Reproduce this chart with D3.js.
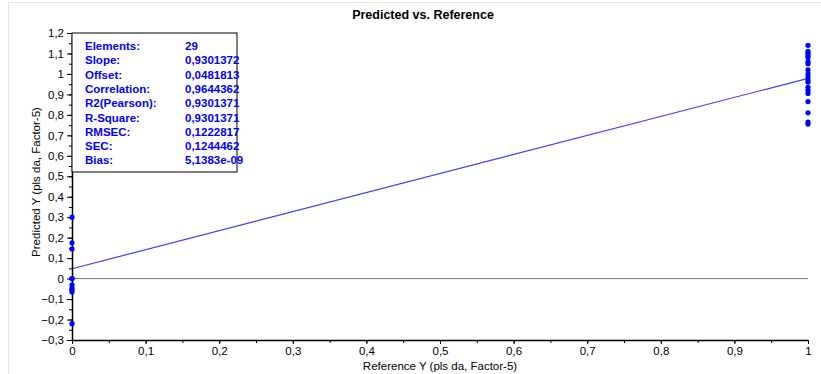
<!DOCTYPE html>
<html><head><meta charset="utf-8">
<script src="https://cdn.jsdelivr.net/npm/d3@7"></script>
<style>body{margin:0;background:#fff}svg{display:block}</style>
</head><body>
<svg id="c" width="821" height="374"></svg>
<script>
// Data
const refX0 = [0,0,0,0,0,0,0,0,0,0];
const predX0 = [0.30,0.175,0.145,0.0,-0.03,-0.045,-0.055,-0.065,-0.22,0.0];
const refX1 = [1,1,1,1,1,1,1,1,1,1,1,1,1,1,1,1,1,1,1];
const predX1 = [1.14,1.11,1.10,1.09,1.08,1.06,1.05,1.02,0.985,0.97,0.96,0.935,0.92,0.905,0.865,0.81,0.765,0.755,1.0];
const statLabels = ["Elements:","Slope:","Offset:","Correlation:","R2(Pearson):","R-Square:","RMSEC:","SEC:","Bias:"];
const statValues = ["29","0,9301372","0,0481813","0,9644362","0,9301371","0,9301371","0,1222817","0,1244462","5,1383e-09"];
const slope = 0.9301372, offset = 0.0481813;
const xTicks = [0,0.1,0.2,0.3,0.4,0.5,0.6,0.7,0.8,0.9,1];
const yTicks = [-0.3,-0.2,-0.1,0,0.1,0.2,0.3,0.4,0.5,0.6,0.7,0.8,0.9,1,1.1,1.2];

const svg = d3.select("#c");
const narrow = "'Liberation Sans Narrow','Arial Narrow','Liberation Sans',sans-serif";
const L = 72, R = 808, T = 33, B = 340;
const x = d3.scaleLinear().domain([0,1]).range([L,R]);
const y = d3.scaleLinear().domain([-0.3,1.2]).range([B,T]);
const loc = d3.formatLocale({decimal:",",thousands:".",grouping:[3],currency:["",""]});
const fmt = v => loc.format("~g")(+v.toFixed(2));

// frame
svg.append("line").attr("x1",8).attr("x2",821).attr("y1",2.5).attr("y2",2.5).attr("stroke","#e3e3e3");
svg.append("line").attr("x1",8.5).attr("x2",8.5).attr("y1",2).attr("y2",374).attr("stroke","#e3e3e3");

// title
svg.append("text").attr("x",423).attr("y",19).attr("text-anchor","middle")
  .attr("font-family",narrow).attr("font-weight","bold").attr("font-size",12.5).text("Predicted vs. Reference");

// zero line
svg.append("line").attr("x1",L).attr("x2",R).attr("y1",y(0)).attr("y2",y(0)).attr("stroke","#808080").attr("stroke-width",1);

// regression line
svg.append("line").attr("x1",x(0)).attr("y1",y(offset)).attr("x2",x(1)).attr("y2",y(offset+slope))
  .attr("stroke","#3d3dff").attr("stroke-width",1.2);

// axes
const minorY = d3.range(-0.3,1.2001,0.05);
const gy = svg.append("g").attr("transform",`translate(${L},0)`);
gy.call(d3.axisLeft(y).tickValues(minorY).tickSize(3).tickFormat(""));
gy.call(g=>g.select(".domain").remove());
const gy2 = svg.append("g").attr("transform",`translate(${L},0)`)
  .call(d3.axisLeft(y).tickValues(yTicks).tickSize(5).tickSizeOuter(0).tickFormat(fmt));
gy2.select(".domain").attr("stroke","#000").attr("stroke-width",1.5);
gy2.selectAll("text").attr("font-family",narrow).attr("font-size",11.5).attr("fill","#000");

const minorX = d3.range(0,1.0001,0.05);
const gx = svg.append("g").attr("transform",`translate(0,${B})`);
gx.call(d3.axisBottom(x).tickValues(minorX).tickSize(3).tickFormat(""));
gx.call(g=>g.select(".domain").remove());
const gx2 = svg.append("g").attr("transform",`translate(0,${B})`)
  .call(d3.axisBottom(x).tickValues(xTicks).tickSize(4).tickSizeOuter(0).tickFormat(fmt));
gx2.select(".domain").attr("stroke","#000").attr("stroke-width",1.5);
gx2.selectAll("text").attr("font-family",narrow).attr("font-size",11.5).attr("fill","#000");

// axis titles
svg.append("text").attr("x",440).attr("y",370).attr("text-anchor","middle")
  .attr("font-family","'Liberation Sans',Arial,sans-serif").attr("font-size",11.5).text("Reference Y (pls da, Factor-5)");
svg.append("text").attr("transform","translate(40,182) rotate(-90)").attr("text-anchor","middle")
  .attr("font-family","'Liberation Sans',Arial,sans-serif").attr("font-size",11.5).text("Predicted Y (pls da, Factor-5)");

// points
const pts = refX0.map((r,i)=>[r,predX0[i]]).concat(refX1.map((r,i)=>[r,predX1[i]]));
svg.append("g").selectAll("circle").data(pts).join("circle")
  .attr("cx",d=>x(d[0])).attr("cy",d=>y(d[1])).attr("r",2.6).attr("fill","#0000ff");

// stats box
svg.append("rect").attr("x",L).attr("y",T).attr("width",165).attr("height",139)
  .attr("fill","#fff").attr("stroke","#000").attr("stroke-width",1);
const st = svg.append("g").attr("font-family","'Liberation Sans',Arial,sans-serif").attr("font-weight","bold")
  .attr("font-size",11.5).attr("fill","#0000ff");
statLabels.forEach((s,i)=>{
  st.append("text").attr("x",85).attr("y",50+i*14.3).text(s);
  st.append("text").attr("x",185).attr("y",50+i*14.3).text(statValues[i]);
});
</script>
</body></html>
